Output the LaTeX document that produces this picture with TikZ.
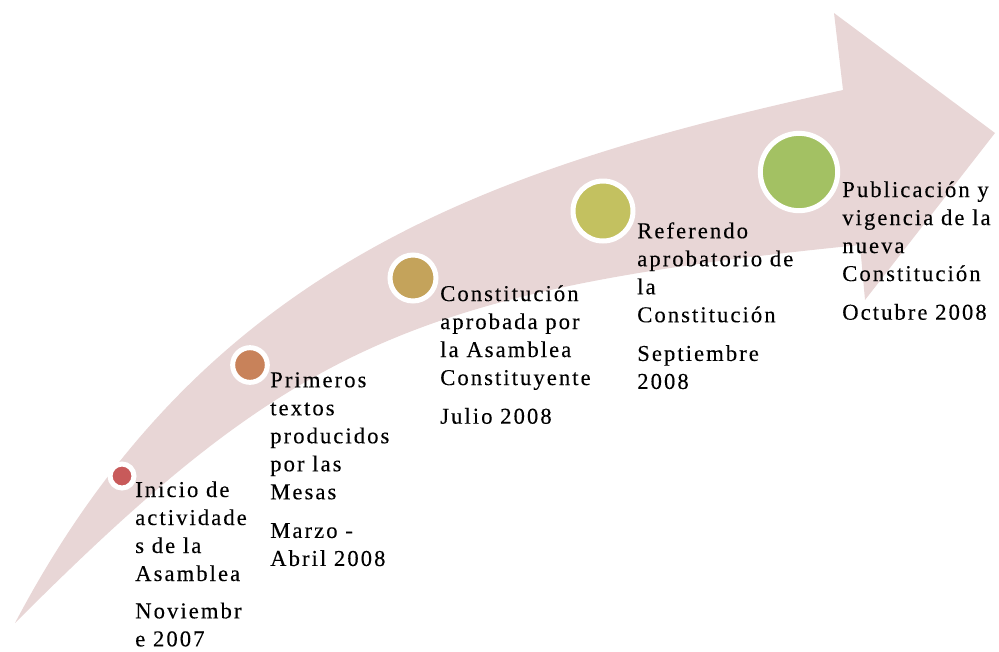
\documentclass[tikz,border=0pt]{standalone}
\usepackage{fontspec}
\setmainfont{Liberation Serif}
\newfontfamily\stagefont[LetterSpace=9,FakeBold=0.2]{Liberation Serif}

\definecolor{arrowpink}{RGB}{232,214,214}
\definecolor{dotred}{RGB}{200,90,90}
\definecolor{dotorange}{RGB}{200,130,90}
\definecolor{dottan}{RGB}{196,163,91}
\definecolor{dotolive}{RGB}{195,193,96}
\definecolor{dotgreen}{RGB}{163,193,99}

\begin{document}
\begin{tikzpicture}[x=0.75pt,y=-0.75pt,
  dot/.style={circle,draw=white,line width=3.75pt,inner sep=0pt},
  stage/.style={anchor=north west,inner sep=0pt,align=left,
    font=\stagefont\fontsize{17pt}{21pt}\selectfont}]

  \useasboundingbox (0,0) rectangle (999,651);

  % big curved arrow
  \fill[arrowpink] (15,623) .. controls (205,262) and (493,167) .. (843,90)
    -- (834,13) -- (995,133) -- (865,300) -- (860,245)
    .. controls (410,290) and (290,348) .. (15,623) -- cycle;

  \node[dot,fill=dotred,minimum size=18pt]     (1) at (122,476) {};
  \node[dot,fill=dotorange,minimum size=26pt]  (2) at (250,365) {};
  \node[dot,fill=dottan,minimum size=34.5pt]   (3) at (413,278) {};
  \node[dot,fill=dotolive,minimum size=45pt]   (4) at (603,211) {};
  \node[dot,fill=dotgreen,minimum size=58pt]   (5) at (799,172) {};

  \node[stage] (t1) at (135,481) {Inicio de\\actividade\\s de la\\Asamblea\\[7pt]Noviembr\\e 2007};
  \node[stage] (t2) at (270,372) {Primeros\\textos\\producidos\\por las\\Mesas\\[8pt]Marzo -\\Abril 2008};
  \node[stage] (t3) at (440,285) {Constitución\\aprobada por\\la Asamblea\\Constituyente\\[8pt]Julio 2008};
  \node[stage] (t4) at (637,222) {Referendo\\aprobatorio de\\la\\Constitución\\[8pt]Septiembre\\2008};
  \node[stage] (t5) at (842,181) {Publicación y\\vigencia de la\\nueva\\Constitución\\[8pt]Octubre 2008};

\end{tikzpicture}
\end{document}
